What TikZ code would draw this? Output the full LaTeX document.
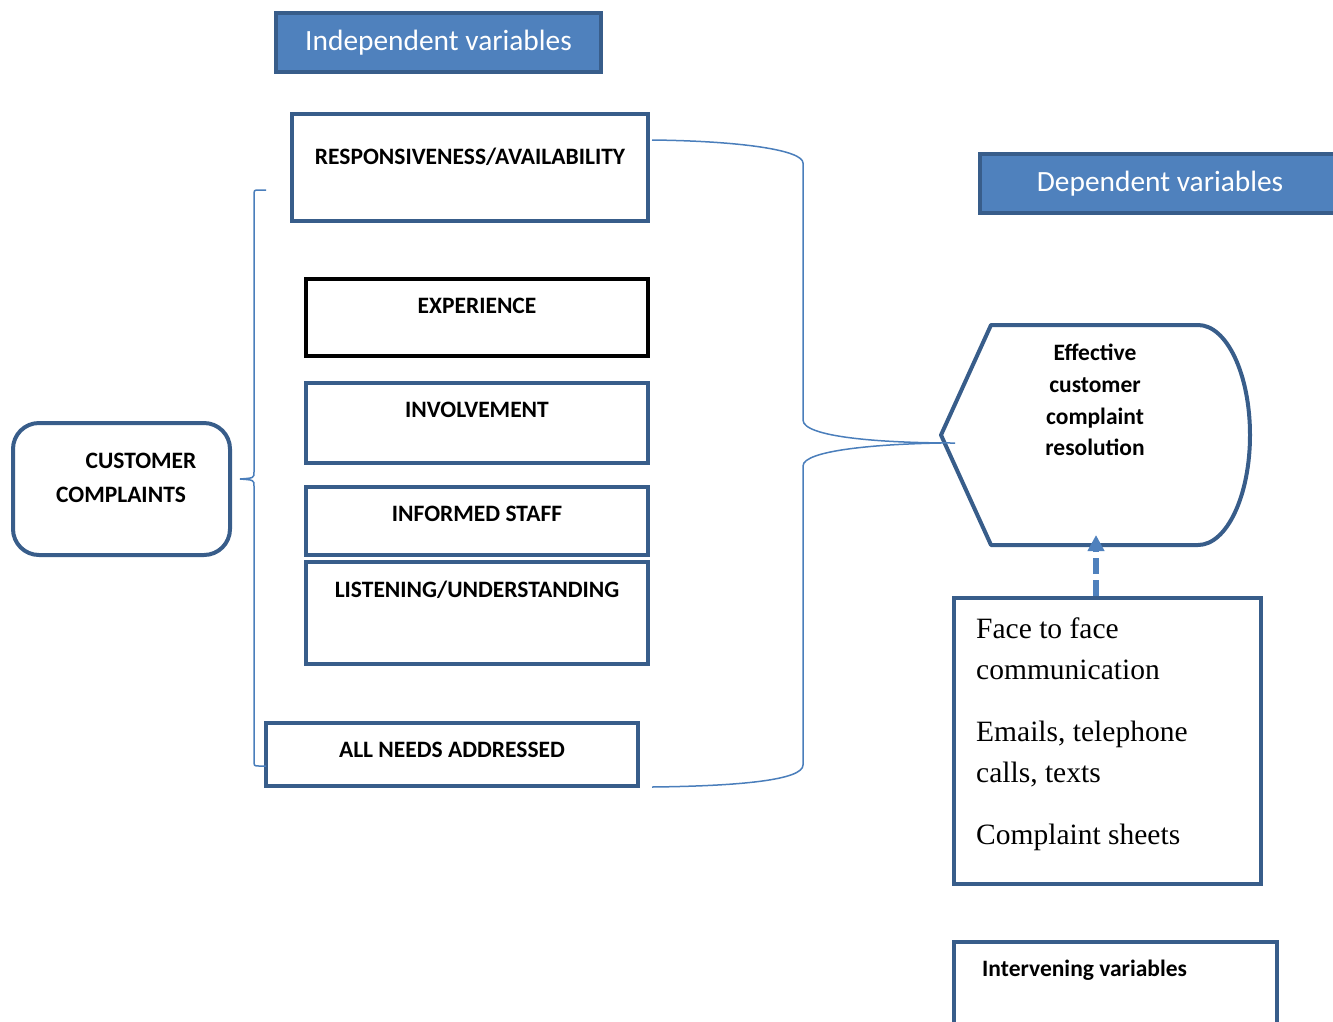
\documentclass[tikz,border=0pt]{standalone}
\usepackage{fontspec}
\setmainfont{Liberation Serif}
\newfontfamily\calib{Carlito}
\usetikzlibrary{arrows.meta}
\definecolor{accfill}{HTML}{4F81BD}
\definecolor{accline}{HTML}{385D8A}
\definecolor{thinblue}{HTML}{4A7EBB}
\tikzset{
  box/.style={draw=accline, line width=4pt, rectangle, inner sep=0pt},
  headbox/.style={draw=accline, fill=accfill, line width=4pt, rectangle, inner sep=0pt,
    text=white, font=\calib\fontsize{29.4}{34}\selectfont},
  lbl/.style={inner sep=0pt, font=\calib\bfseries\fontsize{23.5}{28}\selectfont, text=black},
  sertxt/.style={inner sep=0pt, anchor=north west, align=left, font=\fontsize{29.5}{41}\selectfont},
  brace/.style={draw=thinblue, line width=1.5pt}
}
\begin{document}
\begin{tikzpicture}[x=1pt,y=-1pt]
\useasboundingbox (0,0) rectangle (1333,1021);
% headers
\node[headbox, minimum width=325pt, minimum height=59pt] (indep) at (438.5,42.5) {\raisebox{-5pt}{Independent variables}};
\node[headbox, minimum width=360pt, minimum height=59pt] (dep) at (1160,183.5) {\raisebox{-5pt}{Dependent variables}};
% independent boxes
\node[box, minimum width=356pt, minimum height=107pt] (resp) at (470,167.5) {};
\node[lbl] (resptxt) at (470,157) {RESPONSIVENESS/AVAILABILITY};
\node[box, draw=black, minimum width=342pt, minimum height=77pt] (exp) at (477,317.5) {};
\node[lbl] (exptxt) at (477,306) {EXPERIENCE};
\node[box, minimum width=342pt, minimum height=80pt] (inv) at (477,423) {};
\node[lbl] (invtxt) at (477,410) {INVOLVEMENT};
\node[box, minimum width=342pt, minimum height=68pt] (inf) at (477,521) {};
\node[lbl] (inftxt) at (477,514) {INFORMED STAFF};
\node[box, minimum width=342pt, minimum height=102pt] (lis) at (477,613) {};
\node[lbl] (listxt) at (477,590) {LISTENING/UNDERSTANDING};
\node[box, minimum width=372pt, minimum height=63pt] (all) at (452,754.5) {};
\node[lbl] (alltxt) at (452,750) {ALL NEEDS ADDRESSED};
% customer complaints
\node[box, rounded corners=26pt, minimum width=217pt, minimum height=132pt] (cc) at (121.5,489) {};
\node[lbl] (cc1) at (141,461) {CUSTOMER};
\node[lbl] (cc2) at (121,495) {COMPLAINTS};
% left bracket
\coordinate (lbt) at (266,190);
\coordinate (lbm) at (240,479);
\coordinate (lbb) at (266,766);
\draw[brace] (lbt) -- (259,190) .. controls (254,190) .. (254,196) -- (254,472)
  .. controls (254,478) .. (lbm) .. controls (254,480) .. (254,486) -- (254,760)
  .. controls (254,766) .. (259,766) -- (lbb);
% dependent shape
\coordinate (dl) at (941,435);
\draw[accline, line width=4pt, line join=round] (dl) -- (991,325) -- (1198,325)
  arc[start angle=-90, end angle=90, x radius=52, y radius=110] -- (991,545) -- cycle;
\node[inner sep=0pt] (depshape) at (1096,435) {};
\node[lbl, align=center, font=\calib\bfseries\fontsize{23.5}{31.7}\selectfont] (deptxt) at (1095,400) {Effective\\customer\\complaint\\resolution};
% right brace
\coordinate (rbt) at (652,140);
\coordinate (rbtip) at (955,443);
\coordinate (rbb) at (652,787);
\draw[brace] (rbt) .. controls (740,141) and (803,150) .. (803,163) -- (803,420)
  .. controls (803,437) and (880,443) .. (rbtip);
\draw[brace] (941,443) .. controls (880,444) and (803,450) .. (803,466) -- (803,765)
  .. controls (803,780) and (740,786) .. (rbb);
% intervening box
\node[box, minimum width=307pt, minimum height=286pt] (intv) at (1107.5,741) {};
\node[sertxt] (intvtxt) at (976,618) {Face to face\\communication};
\node[sertxt] (intvtxt2) at (976,721) {Emails, telephone\\calls, texts};
\node[sertxt] (intvtxt3) at (976,824) {Complaint sheets};
\coordinate (arrend) at (1096,535);
\draw[accfill, line width=5.5pt, dash pattern=on 16pt off 6pt, -{Triangle[length=16pt,width=16pt]}]
  (intv.north -| depshape) -- (arrend);
% intervening label box
\node[box, minimum width=323pt, minimum height=100pt] (ivl) at (1115.5,992) {};
\node[lbl, anchor=west] (ivltxt) at (982,970) {Intervening variables};
\end{tikzpicture}
\end{document}
